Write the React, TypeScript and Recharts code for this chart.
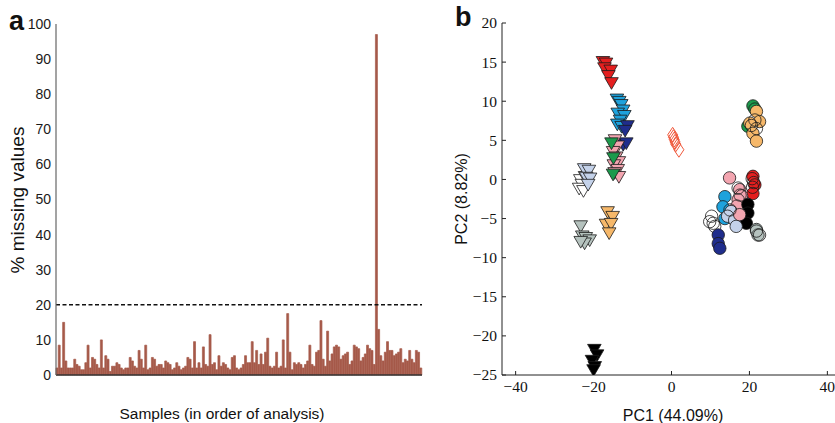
import React from 'react';
import { BarChart, Bar, XAxis, YAxis, ReferenceLine, ScatterChart, Scatter } from 'recharts';

// panel a: % missing values per sample, in order of analysis
const missingPct = [
  2, 8.5, 2, 15, 4, 2, 2, 2, 4.5, 3, 2.5,
  1.5, 1.5, 3.5, 8.5, 2, 5, 4.5, 3, 2, 10,
  2, 5.5, 4.5, 1, 2.5, 2.5, 3.5, 3, 2, 1.5, 2,
  2, 5, 4, 2.5, 2, 7, 4.5, 2, 8.5, 1.5,
  2, 5, 4.5, 2.5, 3, 3,
  2, 4, 3.5, 3, 1.5, 2, 3.5, 2.5, 1.5, 2, 2.5,
  5, 4.5, 2, 9.5, 2, 3.5, 2, 8, 3, 2.5,
  11.5, 3, 3.5, 1.5, 5.5, 2.5, 3.5, 3, 2, 1.5,
  5, 5.5, 2, 1.5, 2, 3, 5.5, 3.5, 3.5, 9.5,
  3.5, 7, 3, 6, 3, 6.5, 10.5, 2.5, 2, 2.5,
  6.5, 2, 2.5, 10, 2,
  17.5, 6.5, 1.5, 3.5, 3, 3.5, 3,
  2, 3, 4, 8.5, 3,
  2.5, 6.5, 7, 15.5, 4.5,
  2.5, 12.5, 4, 6, 8, 8.5, 8, 4.5, 5.5, 6, 6.5, 3, 4, 8.5, 8, 7.5, 4,
  5, 6, 8.5, 7.5, 7, 3, 97,
  13, 5.5, 4, 6.5, 9.5, 7, 7, 5.5, 6, 6.5, 7.5, 3.5, 4.5, 4, 7,
  4.5, 3.5, 7, 6.5, 2,
];
const cutoff = 20;
const pctTicks = [0, 10, 20, 30, 40, 50, 60, 70, 80, 90, 100];

// panel b: PCA scores [PC1, PC2]
const triRed = [[-17.6, 15.0], [-16.8, 14.8], [-17.2, 14.2], [-15.6, 13.9], [-16.2, 13.2], [-15.4, 12.3]];
const triCyan = [[-14.0, 10.2], [-13.4, 9.9], [-12.9, 9.5], [-12.4, 8.8], [-13.8, 8.4], [-12.1, 8.1], [-13.2, 7.5], [-13.9, 7.0], [-12.8, 6.7]];
const triNavy = [[-11.3, 6.8], [-11.9, 6.2], [-12.4, 4.4], [-11.6, 4.6]];
const triGreen = [[-15.4, 4.6], [-14.9, 2.7], [-15.0, 0.6]];
const triPink = [[-14.5, 5.0], [-13.8, 4.2], [-15.0, 3.5], [-14.2, 2.8], [-13.5, 2.2], [-14.8, 1.8], [-13.8, 1.2], [-14.6, 0.8], [-13.5, 0.3]];
const triOpen = [[-23.4, -0.1], [-23.0, -0.7], [-23.7, -1.2], [-22.6, -1.5], [-22.2, 0.3]];
const triLightBlue = [[-22.4, 1.3], [-21.2, 1.1], [-21.9, 0.2], [-20.9, 0.1], [-21.4, -0.7]];
const triGray = [[-23.3, -6.0], [-22.9, -7.3], [-22.0, -7.5], [-21.0, -7.8], [-22.3, -8.2], [-23.3, -8.0]];
const triOrange = [[-16.4, -4.2], [-15.1, -4.8], [-16.8, -5.8], [-15.5, -5.7], [-16.0, -6.9]];
const triBlack = [[-19.8, -21.8], [-19.1, -22.5], [-20.4, -23.2], [-19.7, -24.0], [-20.0, -24.4]];
const diamondsQC = [[0.3, 5.7], [0.5, 5.4], [0.7, 5.1], [0.9, 4.8], [1.1, 4.5], [1.9, 3.8]];
const circGreen = [[20.9, 9.4], [21.4, 9.0], [19.6, 6.8]];
const circOrange = [[21.8, 8.7], [22.6, 7.4], [20.1, 7.2], [20.9, 5.9], [21.8, 4.9]];
const circOpenTop = [[21.4, 7.6], [20.5, 6.9], [21.8, 6.5]];
const circRed = [[20.9, 0.4], [21.4, -0.7], [20.9, -1.8]];
const circOpenRed = [[20.7, 0.1], [21.1, -0.4], [20.8, -1.0]];
const circPink = [[14.9, 0.2], [17.5, -1.3], [18.0, -2.1], [17.1, -2.6], [16.8, -3.4]];
const circCyan = [[13.7, -2.2], [13.2, -3.5], [13.7, -5.0]];
const circBlack = [[19.6, -3.2], [19.6, -4.3], [19.2, -5.6]];
const circLightBlue = [[15.3, -4.1], [14.4, -4.7], [16.2, -5.2], [16.6, -6.0]];
const circPink2 = [[17.5, -4.5]];
const circOpenMid = [[17.1, -1.1], [17.6, -2.0], [15.0, -3.9]];
const circGray = [[21.8, -6.4], [22.2, -7.1]];
const circOpenLow = [[10.3, -4.7], [9.8, -5.4], [10.7, -5.6], [11.1, -6.0], [21.8, -6.6], [22.6, -7.1]];
const circNavy = [[12.0, -7.1], [12.0, -8.2], [12.4, -8.8]];
const pc1Ticks = [-40, -20, 0, 20, 40];
const pc2Ticks = [-25, -20, -15, -10, -5, 0, 5, 10, 15, 20];

const barRows = missingPct.map((v, i) => ({ sample: i + 1, pct: v }));
const pts = (a: number[][]) => a.map(([x, y]) => ({ x, y }));

const sans = '"Liberation Sans", Arial, sans-serif';
const serif = '"Liberation Serif", "DejaVu Serif", serif';

const downTri = (fill: string) => (p: any) => {
  const { cx, cy } = p;
  if (cx == null || cy == null) return <g />;
  return (
    <path
      d={`M${cx - 6.8},${cy - 5.6}L${cx + 6.8},${cy - 5.6}L${cx},${cy + 6.1}Z`}
      fill={fill}
      stroke="#1a1a1a"
      strokeWidth={0.8}
    />
  );
};
const dot = (fill: string) => (p: any) => {
  const { cx, cy } = p;
  if (cx == null || cy == null) return <g />;
  return <circle cx={cx} cy={cy} r={6.2} fill={fill} stroke="#1a1a1a" strokeWidth={0.8} />;
};
const diamond = (p: any) => {
  const { cx, cy } = p;
  if (cx == null || cy == null) return <g />;
  return (
    <path
      d={`M${cx},${cy - 7.5}L${cx + 5},${cy}L${cx},${cy + 7.5}L${cx - 5},${cy}Z`}
      fill="none"
      stroke="#f0573a"
      strokeWidth={1}
    />
  );
};

const minus = (v: number) => (v < 0 ? `\u2212${Math.abs(v)}` : `${v}`);

const serifTick = (p: any) => (
  <text
    x={p.x}
    y={p.y}
    textAnchor={p.textAnchor}
    dy={p.verticalAnchor === 'start' ? '0.72em' : '0.35em'}
    fontFamily={serif}
    style={{ fontFamily: serif, fontSize: 15.5, fill: '#111' }}
  >
    {minus(p.payload.value)}
  </text>
);

const title = (text: string, x: number, y: number, size: number, rotate = false) => () => (
  <text
    x={x}
    y={y}
    textAnchor="middle"
    dominantBaseline="central"
    transform={rotate ? `rotate(-90 ${x} ${y})` : undefined}
    style={{ fontFamily: sans, fontSize: size, fill: '#111' }}
  >
    {text}
  </text>
);

const series: [number[][], any][] = [
  [triRed, downTri('#e41f1f')],
  [triCyan, downTri('#1ea2dc')],
  [triNavy, downTri('#1f2d8c')],
  [triPink, downTri('#f3a5b0')],
  [triGreen, downTri('#1c9a4c')],
  [triOpen, downTri('#ffffff')],
  [triLightBlue, downTri('#c4d2ea')],
  [triGray, downTri('#b5c2be')],
  [triOrange, downTri('#f6b86a')],
  [triBlack, downTri('#000000')],
  [diamondsQC, diamond],
  [circGreen, dot('#1c9a4c')],
  [circOrange, dot('#f6b86a')],
  [circOpenTop, dot('none')],
  [circRed, dot('#e41f1f')],
  [circOpenRed, dot('none')],
  [circPink, dot('#f3a5b0')],
  [circCyan, dot('#1ea2dc')],
  [circBlack, dot('#000000')],
  [circLightBlue, dot('#c4d2ea')],
  [circPink2, dot('#f3a5b0')],
  [circOpenMid, dot('none')],
  [circGray, dot('#b5c2be')],
  [circOpenLow, dot('none')],
  [circNavy, dot('#1f2d8c')],
];

export default function App() {
  return (
    <div style={{ position: 'absolute', left: 0, top: 0, width: 835, height: 423, overflow: 'hidden', background: '#fff' }}>
      <div style={{ position: 'absolute', left: 0, top: 0 }}>
        <BarChart width={440} height={423} data={barRows} margin={{ top: 24, right: 18, bottom: 0, left: 0 }} barCategoryGap={0} barGap={0}>
          <XAxis
            dataKey="sample"
            tick={false}
            tickLine={false}
            height={48}
            axisLine={{ stroke: '#333', strokeWidth: 1.5 }}
            label={title('Samples (in order of analysis)', 222, 413, 15.5)}
          />
          <YAxis
            domain={[0, 100]}
            ticks={pctTicks}
            width={56}
            tickSize={0}
            tickMargin={5}
            tickLine={false}
            axisLine={{ stroke: '#666', strokeWidth: 1.2 }}
            tick={{ fontFamily: sans, fontSize: 14, fill: '#1a1a1a' }}
            label={title('% missing values', 17, 200, 19, true)}
          />
          <Bar dataKey="pct" fill="#a65a4a" stroke="#a65a4a" strokeWidth={0.7} isAnimationActive={false} />
          <ReferenceLine y={cutoff} stroke="#111" strokeWidth={1.4} strokeDasharray="4 2.5" />
        </BarChart>
      </div>
      <div style={{ position: 'absolute', left: 440, top: 0 }}>
        <ScatterChart width={410} height={423} margin={{ top: 23, right: 9, bottom: 0, left: 0 }}>
          <XAxis
            type="number"
            dataKey="x"
            domain={[-43.5, 43.5]}
            ticks={pc1Ticks}
            height={48}
            tickSize={-4}
            tickMargin={10}
            axisLine={{ stroke: '#222' }}
            tickLine={{ stroke: '#222' }}
            tick={serifTick}
            allowDataOverflow
            label={title('PC1 (44.09%)', 233, 415, 16)}
          />
          <XAxis
            xAxisId="top"
            orientation="top"
            type="number"
            domain={[-43.5, 43.5]}
            ticks={pc1Ticks}
            height={0}
            tick={false}
            tickSize={-4}
            axisLine={{ stroke: '#222' }}
            tickLine={{ stroke: '#222' }}
            allowDataOverflow
          />
          <YAxis
            type="number"
            dataKey="y"
            domain={[-25, 20]}
            ticks={pc2Ticks}
            width={62}
            tickSize={-4}
            tickMargin={9}
            axisLine={{ stroke: '#222' }}
            tickLine={{ stroke: '#222' }}
            tick={serifTick}
            allowDataOverflow
            label={title('PC2 (8.82%)', 21, 199, 16, true)}
          />
          {series.map(([d, shape], i) => (
            <Scatter key={i} data={pts(d)} shape={shape} isAnimationActive={false} />
          ))}
        </ScatterChart>
      </div>
      <div style={{ position: 'absolute', left: 9, top: 6, fontFamily: sans, fontWeight: 700, fontSize: 27, color: '#111' }}>a</div>
      <div style={{ position: 'absolute', left: 455, top: 2, fontFamily: sans, fontWeight: 700, fontSize: 27, color: '#111' }}>b</div>
    </div>
  );
}
